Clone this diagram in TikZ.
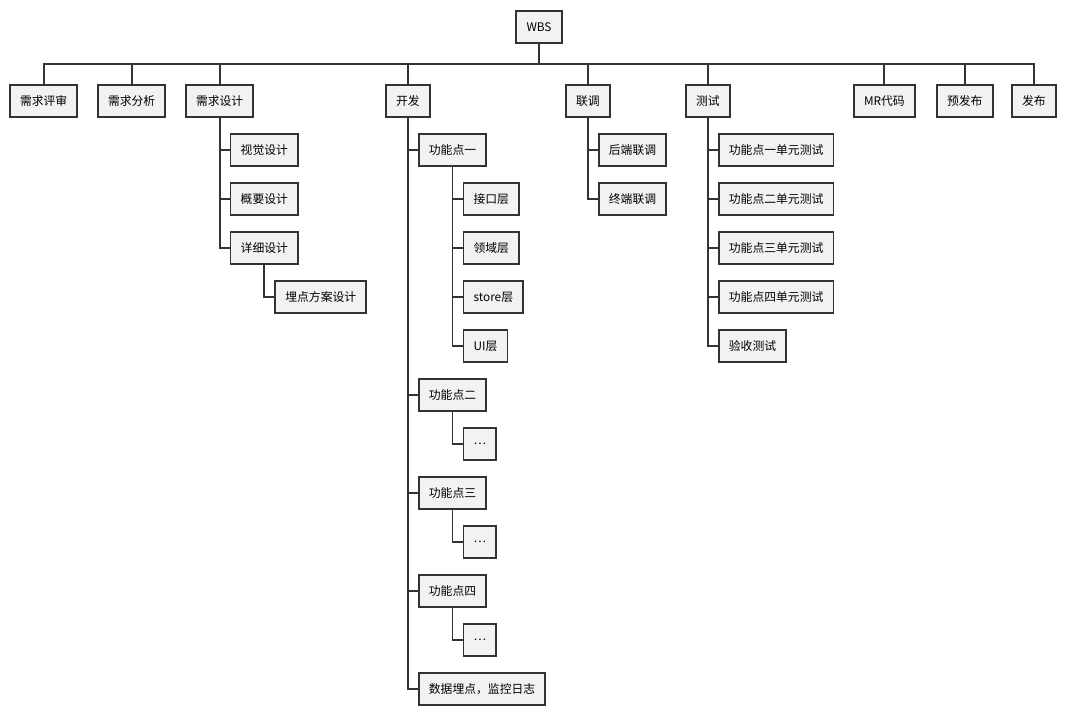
\documentclass[tikz,border=0pt]{standalone}
\usepackage{fontspec}
\setmainfont{Noto Sans CJK SC}
\usetikzlibrary{calc, positioning}

\definecolor{edge}{HTML}{333333}
\definecolor{boxfill}{HTML}{F2F2F2}

\tikzset{
  box/.style={draw=edge, fill=boxfill, line width=1.3pt, minimum height=0.8cm,
    inner xsep=7.2pt, font=\fontsize{8.4}{10}\selectfont},
  link/.style={draw=edge, line width=1.3pt},
}

\begin{document}
\begin{tikzpicture}[x=0.025cm, y=-0.025cm]
    \useasboundingbox (0,0) rectangle (1067,718);

    % root and first level
    \node[box] (wbs) at (539,27) {WBS};
    \node[box, anchor=west] (rev) at (9,101) {需求评审};
    \node[box, anchor=west] (ana) at (97,101) {需求分析};
    \node[box, anchor=west] (des) at (185,101) {需求设计};
    \node[box, anchor=west] (dev) at (385,101) {开发};
    \node[box, anchor=west] (jt) at (565,101) {联调};
    \node[box, anchor=west] (test) at (685,101) {测试};
    \node[box, anchor=west] (mr) at (853,101) {MR代码};
    \node[box, anchor=west] (pre) at (936,101) {预发布};
    \node[box, anchor=west] (pub) at (1011,101) {发布};

    % design
    \node[box, anchor=west] (vis) at ($(des)+(10,49)$) {视觉设计};
    \node[box, anchor=west] (sum) at ($(des)+(10,98)$) {概要设计};
    \node[box, anchor=west] (det) at ($(des)+(10,147)$) {详细设计};
    \node[box, anchor=west] (trk) at ($(det)+(10,49)$) {埋点方案设计};

    % development
    \node[box, anchor=west] (f1) at ($(dev)+(10,49)$) {功能点一};
    \node[box, anchor=west] (api) at ($(f1)+(10,49)$) {接口层};
    \node[box, anchor=west] (dom) at ($(f1)+(10,98)$) {领域层};
    \node[box, anchor=west] (sto) at ($(f1)+(10,147)$) {store层};
    \node[box, anchor=west] (ui) at ($(f1)+(10,196)$) {UI层};
    \node[box, anchor=west] (f2) at ($(dev)+(10,294)$) {功能点二};
    \node[box, anchor=west] (e2) at ($(f2)+(10,49)$) {…};
    \node[box, anchor=west] (f3) at ($(dev)+(10,392)$) {功能点三};
    \node[box, anchor=west] (e3) at ($(f3)+(10,49)$) {…};
    \node[box, anchor=west] (f4) at ($(dev)+(10,490)$) {功能点四};
    \node[box, anchor=west] (e4) at ($(f4)+(10,49)$) {…};
    \node[box, anchor=west] (log) at ($(dev)+(10,588)$) {数据埋点，监控日志};

    % integration
    \node[box, anchor=west] (be) at ($(jt)+(10,49)$) {后端联调};
    \node[box, anchor=west] (te) at ($(jt)+(10,98)$) {终端联调};

    % testing
    \node[box, anchor=west] (t1) at ($(test)+(10,49)$) {功能点一单元测试};
    \node[box, anchor=west] (t2) at ($(test)+(10,98)$) {功能点二单元测试};
    \node[box, anchor=west] (t3) at ($(test)+(10,147)$) {功能点三单元测试};
    \node[box, anchor=west] (t4) at ($(test)+(10,196)$) {功能点四单元测试};
    \node[box, anchor=west] (acc) at ($(test)+(10,245)$) {验收测试};

    % connectors
    \coordinate (bus) at (539,64);
    \draw[link] (wbs.south) -- (bus);
    \foreach \n in {rev,ana,des,dev,jt,test,mr,pre,pub}
        \draw[link] (bus) -| (\n.north);
    \foreach \c in {vis,sum,det}
        \draw[link] (des.south) |- (\c.west);
    \draw[link] (det.south) |- (trk.west);
    \foreach \c in {f1,f2,f3,f4,log}
        \draw[link] (dev.south) |- (\c.west);
    \foreach \c in {api,dom,sto,ui}
        \draw[link] (f1.south) |- (\c.west);
    \draw[link] (f2.south) |- (e2.west);
    \draw[link] (f3.south) |- (e3.west);
    \draw[link] (f4.south) |- (e4.west);
    \foreach \c in {be,te}
        \draw[link] (jt.south) |- (\c.west);
    \foreach \c in {t1,t2,t3,t4,acc}
        \draw[link] (test.south) |- (\c.west);
\end{tikzpicture}
\end{document}
